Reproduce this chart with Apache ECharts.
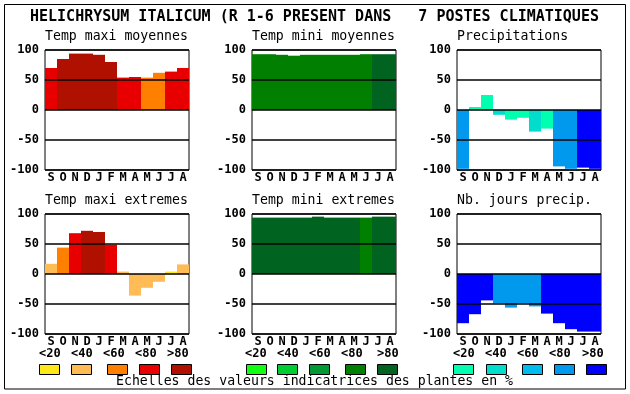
<!DOCTYPE html>
<html>
<head>
<meta charset="utf-8">
<script src="https://cdn.jsdelivr.net/npm/echarts@6/dist/echarts.min.js"></script>
<style>
html,body{margin:0;padding:0;background:#fff;}
#c{width:630px;height:394px;}
</style>
</head>
<body>
<div id="c"></div>
<script>
const months = ['S','O','N','D','J','F','M','A','M','J','J','A'];
const yTicks = [-100, -50, 0, 50, 100];
const classLabels = ['<20','<40','<60','<80','>80'];

const reds   = ['#FFE81A','#FFBB55','#FF8000','#E80000','#B01000'];
const greens = ['#11FF11','#00CC33','#009933','#007F00','#006420'];
const blues  = ['#00FFB0','#00DDCC','#00BBEE','#0099EE','#0000FF'];

const tempMaxiMoy      = [70, 85, 94, 94, 92, 80, 54, 55, 54, 62, 64, 70];
const tempMaxiMoyCls   = [3, 4, 4, 4, 4, 4, 3, 3, 2, 2, 3, 3];
const tempMiniMoy      = [93, 93, 92, 90.5, 92, 92, 92, 92, 92, 93, 93, 93];
const tempMiniMoyCls   = [3, 3, 3, 3, 3, 3, 3, 3, 3, 3, 4, 4];
const precip           = [-98, 5, 25, -8, -16, -13, -36, -31, -94, -98, -96, -98];
const precipCls        = [3, 0, 0, 1, 0, 0, 1, 0, 3, 3, 4, 4];
const tempMaxiExt      = [17, 44, 68, 72, 70, 49, 4, -36, -23, -13, 4, 16];
const tempMaxiExtCls   = [1, 2, 3, 4, 4, 3, 1, 1, 1, 1, 0, 1];
const tempMiniExt      = [94, 94, 94, 94, 94, 95.6, 94, 94, 94, 94, 95.6, 95.6];
const tempMiniExtCls   = [4, 4, 4, 4, 4, 4, 4, 4, 4, 3, 4, 4];
const nbJours          = [-82, -67, -44, -49, -56, -49, -54, -66, -82, -92, -96, -96];
const nbJoursCls       = [4, 4, 4, 3, 3, 3, 3, 4, 4, 4, 4, 4];

const panels = [
  {title:'Temp maxi moyennes', vals:tempMaxiMoy, cls:tempMaxiMoyCls, pal:reds,   left:45,  top:50},
  {title:'Temp mini moyennes', vals:tempMiniMoy, cls:tempMiniMoyCls, pal:greens, left:252, top:50},
  {title:'Precipitations',     vals:precip,      cls:precipCls,      pal:blues,  left:457, top:50},
  {title:'Temp maxi extremes', vals:tempMaxiExt, cls:tempMaxiExtCls, pal:reds,   left:45,  top:214},
  {title:'Temp mini extremes', vals:tempMiniExt, cls:tempMiniExtCls, pal:greens, left:252, top:214},
  {title:'Nb. jours precip.',  vals:nbJours,     cls:nbJoursCls,     pal:blues,  left:457, top:214}
];

const mono = 'DejaVu Sans Mono';
const grids = [], xAxes = [], yAxes = [], series = [], graphics = [];

panels.forEach((p, i) => {
  grids.push({left:p.left, top:p.top, width:144, height:120, show:true,
    borderColor:'#000', borderWidth:1, backgroundColor:'transparent', containLabel:false});
  xAxes.push({type:'category', gridIndex:i, data:months, boundaryGap:true,
    axisLine:{show:false}, axisTick:{show:false},
    axisLabel:{margin:2, color:'#000', fontFamily:mono, fontWeight:'bold', fontSize:12, interval:0}});
  yAxes.push({type:'value', gridIndex:i, min:yTicks[0], max:yTicks[yTicks.length-1], interval:50, z:5,
    axisLine:{show:false}, axisTick:{show:false},
    splitLine:{show:true, lineStyle:{color:'#000', width:1.5}},
    axisLabel:{margin:6, color:'#000', fontFamily:mono, fontWeight:'bold', fontSize:12}});
  series.push({type:'bar', xAxisIndex:i, yAxisIndex:i, barCategoryGap:0, barGap:0, z:2,
    animation:false,
    data:p.vals.map((v, k) => ({value:v, itemStyle:{color:p.pal[p.cls[k]]}}))});
  graphics.push({type:'text', left:p.left, top:(p.top===50?30:194),
    style:{text:p.title, font:'13.2px "'+mono+'"', fill:'#000'}});
});

// outer frame
graphics.push({type:'rect', shape:{x:4.5, y:4.5, width:621, height:384.5},
  style:{fill:'none', stroke:'#000', lineWidth:1}, z:-1});
// main title
graphics.push({type:'text', left:30, top:10,
  style:{text:'HELICHRYSUM ITALICUM (R 1-6 PRESENT DANS   7 POSTES CLIMATIQUES',
    font:'bold 15px "'+mono+'"', fill:'#000'}});
// legends
const legendSets = [
  {pal:reds,   sq:[39, 71, 107, 139, 171], tx:[39, 71, 103, 135, 167]},
  {pal:greens, sq:[246, 277, 309, 345, 377], tx:[245, 277, 309, 341, 377]},
  {pal:blues,  sq:[453, 486, 522, 554, 586], tx:[453, 485, 517, 549, 582]}
];
legendSets.forEach(ls => {
  ls.pal.forEach((c, k) => {
    graphics.push({type:'rect', shape:{x:ls.sq[k]+0.5, y:364.5, width:20, height:10},
      style:{fill:c, stroke:'#000', lineWidth:1}});
    graphics.push({type:'text', left:ls.tx[k], top:348,
      style:{text:classLabels[k], font:'bold 12px "'+mono+'"', fill:'#000'}});
  });
});
graphics.push({type:'text', left:116, top:375,
  style:{text:'Echelles des valeurs indicatrices des plantes en %', font:'13.2px "'+mono+'"', fill:'#000'}});

const chart = echarts.init(document.getElementById('c'), null, {renderer:'canvas'});
chart.setOption({
  animation:false,
  backgroundColor:'#fff',
  grid:grids, xAxis:xAxes, yAxis:yAxes, series:series, graphic:graphics
});
</script>
</body>
</html>
